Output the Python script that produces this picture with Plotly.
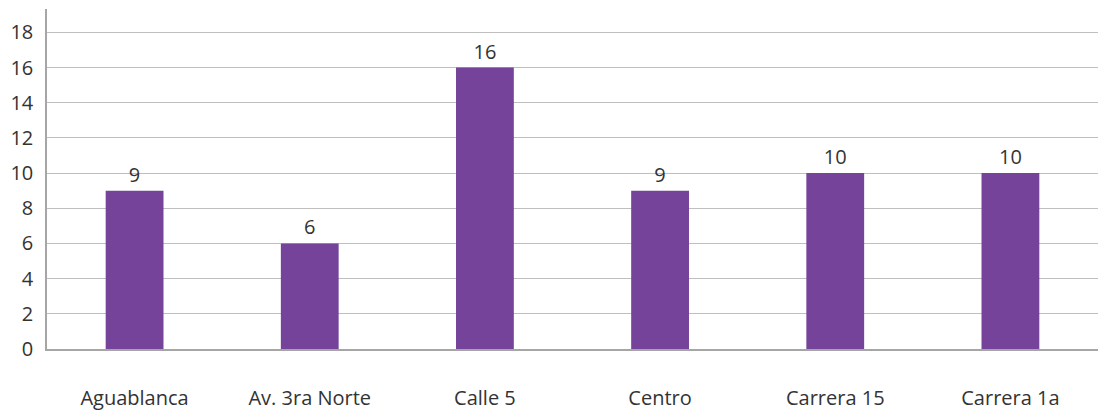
import plotly.graph_objects as go

# Number of records per zone
zonas = ["Aguablanca", "Av. 3ra Norte", "Calle 5", "Centro", "Carrera 15", "Carrera 1a"]
valores = [9, 6, 16, 9, 10, 10]
y_ticks = [0, 2, 4, 6, 8, 10, 12, 14, 16, 18]

FONT = "'Open Sans', Lato, sans-serif"
TEXT = "#333333"
SIZE = 20

fig = go.Figure(
    go.Bar(
        x=zonas,
        y=valores,
        width=0.33,
        marker=dict(color="#75439A", line=dict(width=0)),
        text=[str(v) for v in valores],
        textposition="outside",
        cliponaxis=False,
        textfont=dict(family=FONT, size=SIZE, color=TEXT),
    )
)

fig.update_layout(
    width=1100,
    height=411,
    margin=dict(l=47, r=2, t=9, b=62, autoexpand=False),
    paper_bgcolor="white",
    plot_bgcolor="white",
    showlegend=False,
    font=dict(family=FONT, size=SIZE, color=TEXT),
)

fig.update_xaxes(
    showgrid=False,
    showline=True,
    linecolor="#A6A6A6",
    linewidth=1.5,
    ticks="",
    automargin=False,
    ticklabelstandoff=30,
    tickfont=dict(family=FONT, size=SIZE, color=TEXT),
)

fig.update_yaxes(
    range=[0, 19.33],
    tickvals=y_ticks,
    showgrid=True,
    gridcolor="#BFBFBF",
    gridwidth=1.2,
    showline=True,
    linecolor="#A6A6A6",
    linewidth=1.5,
    zeroline=False,
    ticks="",
    automargin=False,
    ticklabelstandoff=8,
    tickfont=dict(family=FONT, size=SIZE, color=TEXT),
)

fig.write_html("out.html")
